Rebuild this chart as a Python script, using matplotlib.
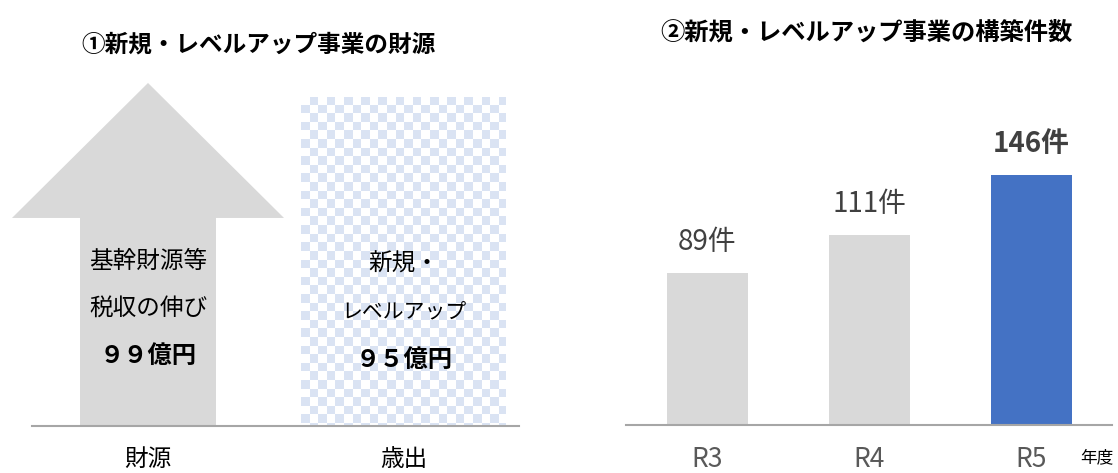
import numpy as np
import matplotlib
matplotlib.use("Agg")
import matplotlib.pyplot as plt
from matplotlib.patches import Polygon
from matplotlib.colors import ListedColormap

plt.rcParams['font.family'] = ['Noto Sans CJK JP', 'DejaVu Sans']

# ---- data ----
left_title = "①新規・レベルアップ事業の財源"
right_title = "②新規・レベルアップ事業の構築件数"
left_categories = ["財源", "歳出"]
left_values = [99, 95]          # 億円
left_inner_lines = [["基幹財源等", "税収の伸び", "９９億円"],
                    ["新規・", "レベルアップ", "９５億円"]]
right_categories = ["R3", "R4", "R5"]
right_values = [89, 111, 146]
right_labels = ["89件", "111件", "146件"]
right_unit = "年度"

W, H = 1118, 473
fig = plt.figure(figsize=(W / 100, H / 100), dpi=100)

GRAY = "#D9D9D9"
BLUE = "#4472C4"
CHECK = "#DAE3F3"
AXIS = "#A6A6A6"

def px_axes(x0, x1, ybot, ytop):
    return fig.add_axes([x0 / W, (H - ybot) / H, (x1 - x0) / W, (ybot - ytop) / H])

# ---------------- left panel ----------------
axL = px_axes(32, 519, 425.5, 60)
px_per_unit_L = 3.46
ytopL = 365.5 / px_per_unit_L
unitx = 255.7
xlo = -116 / unitx

# arrow (財源)
shaft_w = 136 / unitx
head_w = 272 / unitx
head_len = 135 / px_per_unit_L
top = left_values[0]
cx = 0
arrow = Polygon([(cx - shaft_w / 2, 0), (cx - shaft_w / 2, top - head_len),
                 (cx - head_w / 2, top - head_len), (cx, top),
                 (cx + head_w / 2, top - head_len), (cx + shaft_w / 2, top - head_len),
                 (cx + shaft_w / 2, 0)], closed=True, facecolor=GRAY, edgecolor='none',
                zorder=2, clip_on=False)
axL.add_patch(arrow)

# checkered bar (歳出)
bw = 205 / unitx
bars = axL.bar([1], [left_values[1]], width=bw, color='none', edgecolor='none', zorder=2)
bar = bars[0]
cell_px = 8.6
ncols = int(np.ceil(205 / cell_px))
nrows = int(np.ceil(left_values[1] * px_per_unit_L / cell_px))
pattern = (np.add.outer(np.arange(nrows), np.arange(ncols)) % 2)
cmap = ListedColormap(["white", CHECK])
x0 = 1 - bw / 2
im = axL.imshow(pattern, cmap=cmap, origin='upper', interpolation='nearest',
                extent=[x0, x0 + ncols * cell_px / unitx,
                        left_values[1] - nrows * cell_px / px_per_unit_L, left_values[1]],
                aspect='auto', zorder=1)
im.set_clip_path(bar)

axL.set_ylim(0, ytopL)
axL.set_xlim(xlo, xlo + 487 / unitx)

for s in ['top', 'right', 'left']:
    axL.spines[s].set_visible(False)
axL.spines['bottom'].set_color(AXIS)
axL.spines['bottom'].set_linewidth(1.5)
axL.spines['bottom'].set_zorder(5)
axL.set_yticks([])
axL.set_xticks([0, 1])
axL.set_xticklabels(left_categories, fontsize=17, color="#000000")
axL.tick_params(axis='x', length=0, pad=16)

inner_y = [[0.450, 0.321, 0.190], [0.442, 0.311, 0.179]]
inner_size = [[17, 17, 17.5], [17, 15, 17.5]]
inner_bold = [[False, False, True], [False, False, True]]
for i, lines in enumerate(left_inner_lines):
    for j, t in enumerate(lines):
        axL.text(i, inner_y[i][j] * ytopL, t, ha='center', va='center',
                 fontsize=inner_size[i][j], fontweight='bold' if inner_bold[i][j] else 'normal',
                 color='#000000', zorder=6)

# ---------------- right panel ----------------
axR = px_axes(626, 1112, 425, 60)
px_per_unit_R = 1.712
axR.set_ylim(0, 365 / px_per_unit_R)
axR.set_xlim(-0.5, len(right_categories) - 0.5)
colors = [GRAY, GRAY, BLUE]
xs = np.arange(len(right_categories))
axR.bar(xs, right_values, width=0.5, color=colors, zorder=2)
for i, (v, lab) in enumerate(zip(right_values, right_labels)):
    bold = (i == len(right_values) - 1)
    axR.annotate(lab, (xs[i], v), xytext=(0, 31 * 0.72), textcoords='offset points',
                 ha='center', va='center', fontsize=20,
                 fontweight='bold' if bold else 'normal', color='#404040')
for s in ['top', 'right', 'left']:
    axR.spines[s].set_visible(False)
axR.spines['bottom'].set_color(AXIS)
axR.spines['bottom'].set_linewidth(1.5)
axR.set_yticks([])
axR.set_xticks(xs)
axR.set_xticklabels(right_categories, fontsize=19, color="#595959")
axR.tick_params(axis='x', length=0, pad=15)

# ---------------- titles / unit ----------------
fig.text(258 / W, 1 - 45 / H, left_title, ha='center', va='center',
         fontsize=17, fontweight='bold', color='#000000')
fig.text(866 / W, 1 - 33 / H, right_title, ha='center', va='center',
         fontsize=17.5, fontweight='bold', color='#000000')
fig.text(1097 / W, 1 - 458 / H, right_unit, ha='center', va='center',
         fontsize=12, color='#000000')

fig.savefig("out.png", dpi=100)
